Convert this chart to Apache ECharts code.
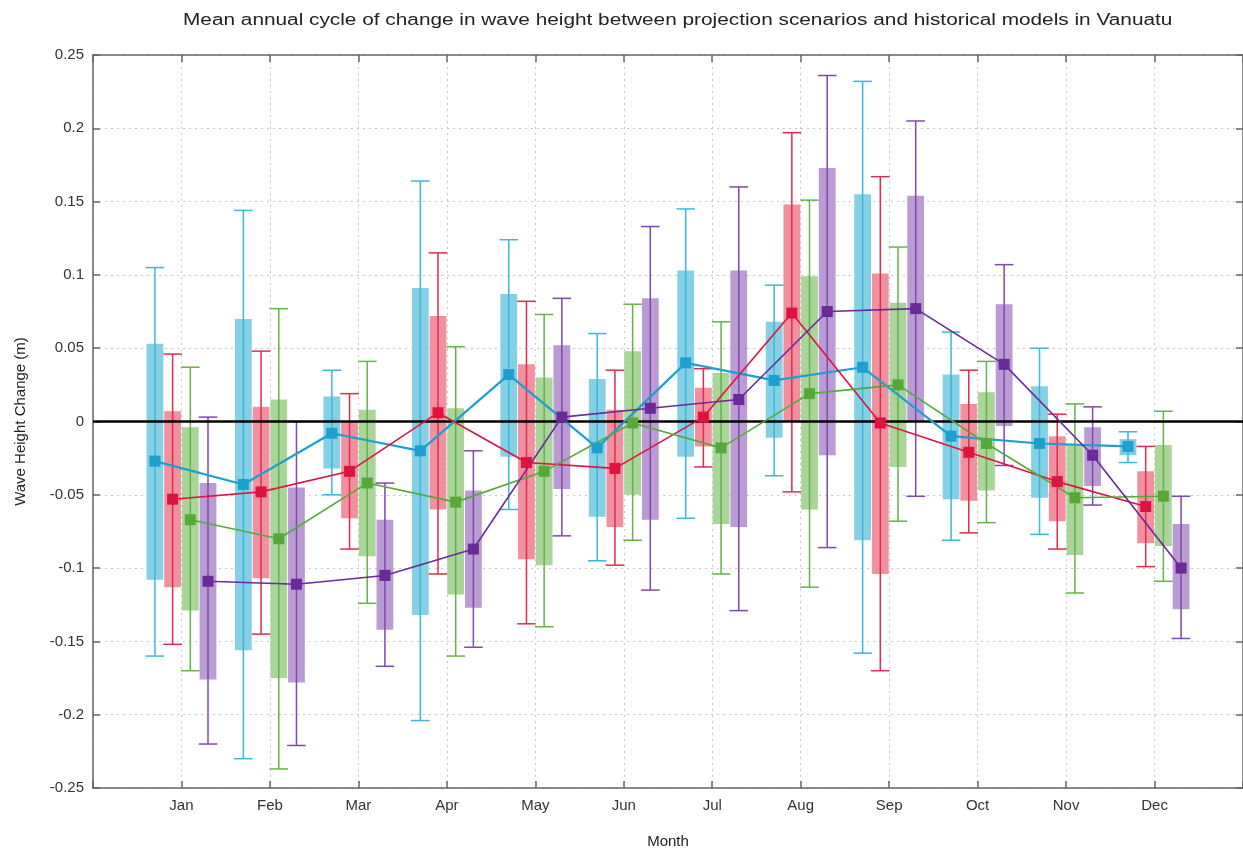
<!DOCTYPE html>
<html>
<head>
<meta charset="utf-8">
<title>Vanuatu wave height change</title>
<script src="https://cdn.jsdelivr.net/npm/echarts@6.0.0/dist/echarts.min.js"></script>
<style>
    html, body { margin: 0; padding: 0; background: #fff; }
    .echarts_1 { width: 1243px; height: 850px; }
</style>
</head>
<body>
<div class="echarts_1"></div>
<script>
// 月份
var months = ['Jan', 'Feb', 'Mar', 'Apr', 'May', 'Jun', 'Jul', 'Aug', 'Sep', 'Oct', 'Nov', 'Dec'];
var yTicks = [-0.25, -0.2, -0.15, -0.1, -0.05, 0, 0.05, 0.1, 0.15, 0.2, 0.25];

// 青色
var cyanMean  = [-0.027, -0.043, -0.008, -0.020, 0.032, -0.018, 0.040, 0.028, 0.037, -0.010, -0.015, -0.017];
var cyanBoxHi = [0.053, 0.070, 0.017, 0.091, 0.087, 0.029, 0.103, 0.068, 0.155, 0.032, 0.024, -0.012];
var cyanBoxLo = [-0.108, -0.156, -0.032, -0.132, -0.024, -0.065, -0.024, -0.011, -0.081, -0.053, -0.052, -0.023];
var cyanWhHi  = [0.105, 0.144, 0.035, 0.164, 0.124, 0.060, 0.145, 0.093, 0.232, 0.061, 0.050, -0.007];
var cyanWhLo  = [-0.160, -0.230, -0.050, -0.204, -0.060, -0.095, -0.066, -0.037, -0.158, -0.081, -0.077, -0.028];

// 红色
var redMean  = [-0.053, -0.048, -0.034, 0.006, -0.028, -0.032, 0.003, 0.074, -0.001, -0.021, -0.041, -0.058];
var redBoxHi = [0.007, 0.010, 0.000, 0.072, 0.039, 0.008, 0.023, 0.148, 0.101, 0.012, -0.010, -0.034];
var redBoxLo = [-0.113, -0.107, -0.066, -0.060, -0.094, -0.072, -0.017, 0.000, -0.104, -0.054, -0.068, -0.083];
var redWhHi  = [0.046, 0.048, 0.019, 0.115, 0.082, 0.035, 0.036, 0.197, 0.167, 0.035, 0.005, -0.017];
var redWhLo  = [-0.152, -0.145, -0.087, -0.104, -0.138, -0.098, -0.031, -0.048, -0.170, -0.076, -0.087, -0.099];

// 绿色
var greenMean  = [-0.067, -0.080, -0.042, -0.055, -0.034, -0.001, -0.018, 0.019, 0.025, -0.015, -0.052, -0.051];
var greenBoxHi = [-0.004, 0.015, 0.008, 0.009, 0.030, 0.048, 0.033, 0.099, 0.081, 0.020, -0.016, -0.016];
var greenBoxLo = [-0.129, -0.175, -0.092, -0.118, -0.098, -0.050, -0.070, -0.060, -0.031, -0.047, -0.091, -0.085];
var greenWhHi  = [0.037, 0.077, 0.041, 0.051, 0.073, 0.080, 0.068, 0.151, 0.119, 0.041, 0.012, 0.007];
var greenWhLo  = [-0.170, -0.237, -0.124, -0.160, -0.140, -0.081, -0.104, -0.113, -0.068, -0.069, -0.117, -0.109];

// 紫色
var purpleMean  = [-0.109, -0.111, -0.105, -0.087, 0.003, 0.009, 0.015, 0.075, 0.077, 0.039, -0.023, -0.100];
var purpleBoxHi = [-0.042, -0.045, -0.067, -0.047, 0.052, 0.084, 0.103, 0.173, 0.154, 0.080, -0.004, -0.070];
var purpleBoxLo = [-0.176, -0.178, -0.142, -0.127, -0.046, -0.067, -0.072, -0.023, 0.000, -0.003, -0.044, -0.128];
var purpleWhHi  = [0.003, 0.000, -0.042, -0.020, 0.084, 0.133, 0.160, 0.236, 0.205, 0.107, 0.010, -0.051];
var purpleWhLo  = [-0.220, -0.221, -0.167, -0.154, -0.078, -0.115, -0.129, -0.086, -0.051, -0.030, -0.057, -0.148];

var scenarios = [
    { name: 'cyan',   offset: -0.3, mean: cyanMean,   boxHi: cyanBoxHi,   boxLo: cyanBoxLo,   whHi: cyanWhHi,   whLo: cyanWhLo,
      box: '#86d0e6', whisker: '#3bb8d8', line: '#1f9fcd', lineWidth: 2.2 },
    { name: 'red',    offset: -0.1, mean: redMean,    boxHi: redBoxHi,    boxLo: redBoxLo,    whHi: redWhHi,    whLo: redWhLo,
      box: '#f1909f', whisker: '#dc2d4e', line: '#de1440', lineWidth: 1.6 },
    { name: 'green',  offset: 0.1,  mean: greenMean,  boxHi: greenBoxHi,  boxLo: greenBoxLo,  whHi: greenWhHi,  whLo: greenWhLo,
      box: '#a9d598', whisker: '#66b24a', line: '#57a83b', lineWidth: 1.6 },
    { name: 'purple', offset: 0.3,  mean: purpleMean, boxHi: purpleBoxHi, boxLo: purpleBoxLo, whHi: purpleWhHi, whLo: purpleWhLo,
      box: '#bb9bd3', whisker: '#8147ad', line: '#6a2a98', lineWidth: 1.6 }
];

var fontName = 'Liberation Sans';
var titleText = 'Mean annual cycle of change in wave height between projection scenarios and historical models in Vanuatu';

// 基于准备好的dom，初始化echarts实例
var echarts1 = echarts.init(document.querySelector('.echarts_1'));

var series = [];

// 箱体
scenarios.forEach(function (s) {
    series.push({
        type: 'custom',
        name: s.name + ' box',
        z: 2,
        silent: true,
        data: months.map(function (m, i) { return [i + 1 + s.offset, s.boxLo[i], s.boxHi[i]]; }),
        encode: { x: 0, y: [1, 2] },
        renderItem: function (params, api) {
            var x = api.value(0);
            var lo = api.coord([x, api.value(1)]);
            var hi = api.coord([x, api.value(2)]);
            var w = api.size([0.19, 0])[0];
            return {
                type: 'rect',
                shape: { x: lo[0] - w / 2, y: hi[1], width: w, height: lo[1] - hi[1] },
                style: { fill: s.box }
            };
        }
    });
});

// 误差线
scenarios.forEach(function (s) {
    series.push({
        type: 'custom',
        name: s.name + ' whisker',
        z: 3,
        silent: true,
        data: months.map(function (m, i) { return [i + 1 + s.offset, s.whLo[i], s.whHi[i]]; }),
        encode: { x: 0, y: [1, 2] },
        renderItem: function (params, api) {
            var x = api.value(0);
            var lo = api.coord([x, api.value(1)]);
            var hi = api.coord([x, api.value(2)]);
            var w = api.size([0.21, 0])[0];
            var st = { stroke: s.whisker, lineWidth: 1.5 };
            return {
                type: 'group',
                children: [
                    { type: 'line', shape: { x1: lo[0], y1: lo[1], x2: hi[0], y2: hi[1] }, style: st },
                    { type: 'line', shape: { x1: lo[0] - w / 2, y1: lo[1], x2: lo[0] + w / 2, y2: lo[1] }, style: st },
                    { type: 'line', shape: { x1: hi[0] - w / 2, y1: hi[1], x2: hi[0] + w / 2, y2: hi[1] }, style: st }
                ]
            };
        }
    });
});

// 零线
series.push({
    type: 'line',
    name: 'zero',
    z: 4,
    silent: true,
    symbol: 'none',
    data: [[0, 0], [13, 0]],
    lineStyle: { color: '#000', width: 2.5 }
});

// 平均值折线
scenarios.forEach(function (s) {
    series.push({
        type: 'line',
        name: s.name,
        z: 5,
        symbol: 'rect',
        symbolSize: 11,
        data: months.map(function (m, i) { return [i + 1 + s.offset, s.mean[i]]; }),
        lineStyle: { color: s.line, width: s.lineWidth },
        itemStyle: { color: s.line, opacity: 1 }
    });
});

var axisLineStyle = { color: '#666', width: 1.5 };
var tickStyle = { show: true, inside: true, length: 7, lineStyle: { color: '#666', width: 1.5 } };
var gridLine = { show: true, lineStyle: { color: '#c8c8c8', type: [2, 4], width: 1 } };

var option1 = {
    animation: false,
    backgroundColor: '#fff',
    textStyle: { fontFamily: fontName },
    // 标题（原图横向拉伸，这里用 scaleX 还原宽度）
    graphic: [{
        type: 'text',
        x: 183,
        y: 13,
        scaleX: 1.3,
        silent: true,
        style: {
            text: titleText,
            fontFamily: fontName,
            fontSize: 16,
            fill: '#222',
            textVerticalAlign: 'top'
        }
    }],
    grid: { left: 93, right: 0, top: 55, bottom: 62, outerBoundsMode: 'none', containLabel: false },
    xAxis: [{
        type: 'value',
        min: 0,
        max: 13,
        interval: 1,
        name: 'Month',
        nameLocation: 'middle',
        nameGap: 46,
        nameTextStyle: { fontFamily: fontName, fontSize: 15, color: '#222' },
        axisLine: { onZero: false, lineStyle: axisLineStyle },
        axisTick: tickStyle,
        axisLabel: {
            fontFamily: fontName, fontSize: 15, color: '#333', margin: 10,
            formatter: function (v) { return months[v - 1] || ''; }
        },
        splitLine: gridLine
    }, {
        type: 'value',
        position: 'top',
        min: 0,
        max: 13,
        interval: 1,
        axisLine: { show: true, onZero: false, lineStyle: axisLineStyle },
        axisTick: tickStyle,
        axisLabel: { show: false },
        splitLine: { show: false }
    }],
    yAxis: [{
        type: 'value',
        min: -0.25,
        max: 0.25,
        interval: 0.05,
        name: 'Wave Height Change (m)',
        nameLocation: 'middle',
        nameGap: 65,
        nameTextStyle: { fontFamily: fontName, fontSize: 15, color: '#222' },
        axisLine: { show: true, onZero: false, lineStyle: axisLineStyle },
        axisTick: tickStyle,
        axisLabel: {
            fontFamily: fontName, fontSize: 15, color: '#333', margin: 9,
            formatter: function (v) {
                var r = Math.round(v * 100) / 100;
                var t = yTicks.filter(function (k) { return Math.abs(k - r) < 1e-9; });
                return t.length ? String(t[0]) : '';
            }
        },
        splitLine: gridLine
    }, {
        type: 'value',
        position: 'right',
        min: -0.25,
        max: 0.25,
        interval: 0.05,
        axisLine: { show: true, onZero: false, lineStyle: axisLineStyle },
        axisTick: tickStyle,
        axisLabel: { show: false },
        splitLine: { show: false }
    }],
    series: series
};

// 使用刚指定的配置项和数据显示图表。
echarts1.setOption(option1);
</script>
</body>
</html>
